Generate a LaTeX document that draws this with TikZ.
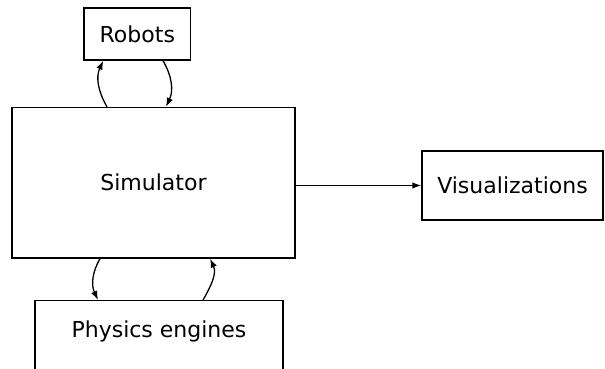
\documentclass[tikz,border=0pt]{standalone}
\usepackage{fontspec}
\setmainfont{DejaVu Sans}
\usetikzlibrary{arrows.meta}
\tikzset{
  block/.style={draw, line width=1.3pt, inner sep=0pt, font=\fontsize{22}{26}\selectfont},
  loop/.style={-{Latex[length=9pt,width=6.5pt]}, line width=1.3pt}
}
\begin{document}
\begin{tikzpicture}[x=1pt,y=1pt]
\pgfmathsetmacro{\kw}{605}
\pgfmathsetmacro{\kh}{369}
\clip (0,0) rectangle (\kw,\kh);
%
\node[block, minimum width=106.5pt, minimum height=52pt] (rob) at (137.3,335) {Robots};
\node[block, minimum width=283pt, minimum height=150.5pt] (sim) at (153.5,186.25) {Simulator};
\node[block, minimum width=181pt, minimum height=69pt] (vis) at (512.5,183.5) {Visualizations};
\node[block, minimum width=248pt, text height=36.7pt, text depth=80pt, anchor=north] (phy) at (159,69) {Physics engines};
%
\draw[loop] ([xshift=-46.5pt]sim.north) to[out=120, in=-115] ([xshift=-34pt]rob.south);
\draw[loop] ([xshift=25.7pt]rob.south) to[out=-60, in=65] ([xshift=12.5pt]sim.north);
%
\draw[loop] ([xshift=-53.5pt]sim.south) to[out=-120, in=115] ([xshift=-61pt]phy.north);
\draw[loop] ([xshift=44pt]phy.north) to[out=60, in=-65] ([xshift=56.5pt]sim.south);
%
\draw[loop] (sim.east |- vis.west) -- (vis.west);
\end{tikzpicture}
\end{document}
